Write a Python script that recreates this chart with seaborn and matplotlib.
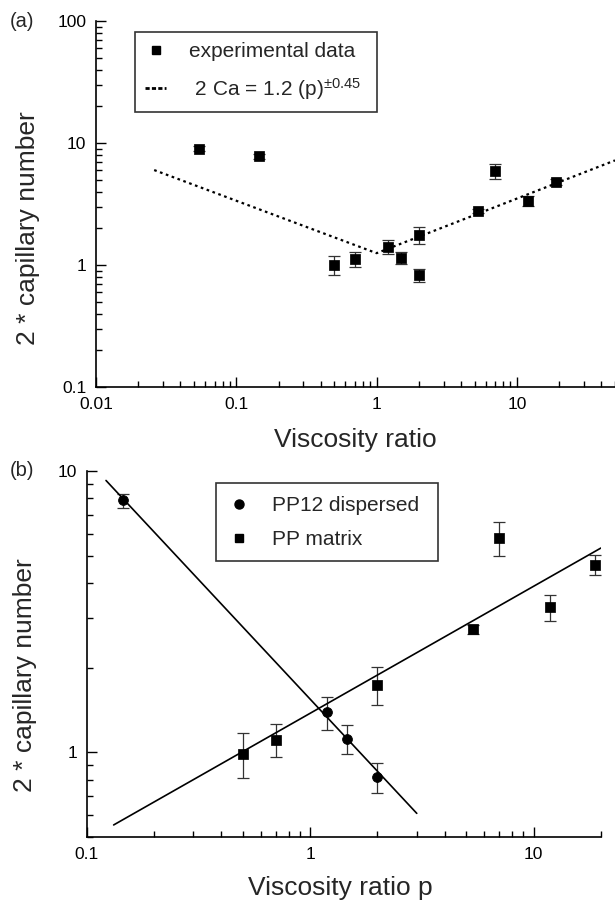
import matplotlib
matplotlib.use("Agg")
import matplotlib.pyplot as plt
import seaborn as sns
from matplotlib.lines import Line2D
from matplotlib.ticker import FixedLocator, LogLocator, NullFormatter

# --- data ---
# (a) all experiments
p_all = [0.054, 0.145, 0.50, 0.70, 1.2, 1.5, 2.0, 2.0, 5.3, 7.0, 12.0, 19.0]
ca_all = [9.0, 7.8, 1.0, 1.12, 1.41, 1.14, 1.77, 0.83, 2.78, 5.9, 3.35, 4.8]
err_all = [0.45, 0.4, 0.18, 0.15, 0.19, 0.13, 0.27, 0.1, 0.1, 0.8, 0.33, 0.3]
fit_p = [0.026, 1.0, 50.0]
fit_ca = [6.0, 1.25, 7.2]

# (b) split by series
disp_p = [0.146, 1.19, 1.46, 2.0]
disp_ca = [7.87, 1.39, 1.12, 0.815]
disp_err = [0.45, 0.19, 0.13, 0.1]
matrix_p = [0.5, 0.7, 2.0, 5.37, 7.0, 11.8, 18.75]
matrix_ca = [0.99, 1.11, 1.74, 2.74, 5.78, 3.28, 4.65]
matrix_err = [0.18, 0.15, 0.27, 0.1, 0.8, 0.35, 0.37]
disp_fit_p = [0.122, 3.0]
disp_fit_ca = [9.27, 0.607]
matrix_fit_p = [0.132, 20.0]
matrix_fit_ca = [0.552, 5.33]

sns.set_style("ticks")
plt.rcParams["font.family"] = ["Liberation Sans", "DejaVu Sans"]
plt.rcParams["mathtext.default"] = "regular"

fig = plt.figure(figsize=(6.15, 9.01), dpi=100)
ax1 = fig.add_axes([0.156, 0.5705, 0.844, 0.4062])
ax2 = fig.add_axes([0.141, 0.071, 0.836, 0.406])


def errbars(ax, x, y, e):
    _, caps, _ = ax.errorbar(x, y, yerr=e, fmt="none", ecolor="0.2",
                             elinewidth=0.9, capsize=4.3, capthick=0.9, zorder=2)
    for c in caps:
        c.set_color("0.55")


def style_axis(ax, xticks, xlabels, yticks, ylabels):
    ax.set_xscale("log")
    ax.set_yscale("log")
    sns.despine(ax=ax)
    for s in ["left", "bottom"]:
        ax.spines[s].set_linewidth(1.2)
        ax.spines[s].set_color("black")
    ax.xaxis.set_major_locator(FixedLocator(xticks))
    ax.set_xticklabels(xlabels)
    ax.yaxis.set_major_locator(FixedLocator(yticks))
    ax.set_yticklabels(ylabels)
    ax.xaxis.set_minor_locator(LogLocator(base=10, subs=range(2, 10), numticks=20))
    ax.yaxis.set_minor_locator(LogLocator(base=10, subs=range(2, 10), numticks=20))
    ax.xaxis.set_minor_formatter(NullFormatter())
    ax.yaxis.set_minor_formatter(NullFormatter())
    ax.tick_params(which="both", direction="in", top=False, right=False,
                   labelsize=12.5, colors="black", width=1)
    ax.tick_params(which="major", length=7)
    ax.tick_params(which="minor", length=4)
    ax.tick_params(axis="y", pad=7)
    ax.tick_params(axis="x", pad=7)


# --- panel (a) ---
errbars(ax1, p_all, ca_all, err_all)
sns.scatterplot(x=p_all, y=ca_all, marker="s", color="black", s=42,
                edgecolor="black", ax=ax1, zorder=3)
sns.lineplot(x=fit_p, y=fit_ca, color="black", linestyle=(0, (1.2, 1.6)),
             linewidth=1.6, estimator=None, sort=False, ax=ax1)
style_axis(ax1, [0.01, 0.1, 1, 10], ["0.01", "0.1", "1", "10"],
           [0.1, 1, 10, 100], ["0.1", "1", "10", "100"])
ax1.set_xlim(0.01, 50)
ax1.set_ylim(0.1, 100)
ax1.set_xlabel("Viscosity ratio", fontsize=19)
ax1.set_ylabel("2 * capillary number", fontsize=19)
ax1.xaxis.set_label_coords(0.499, -0.113)
ax1.yaxis.set_label_coords(-0.108, 0.434)

h1 = [Line2D([], [], marker="s", color="black", linestyle="none", markersize=6),
      Line2D([], [], color="black", linestyle=(0, (1.5, 0.8)), linewidth=2)]
leg1 = ax1.legend(h1, ["experimental data  ", r" 2 Ca = 1.2 (p)$^{\pm0.45}$ "],
                  loc="upper left", bbox_to_anchor=(0.075, 0.97), fontsize=15,
                  frameon=True, fancybox=False, handlelength=1.0,
                  handletextpad=1.1, labelspacing=0.7, borderpad=0.5,
                  borderaxespad=0)
leg1.get_frame().set_edgecolor("black")
leg1.get_frame().set_linewidth(1.2)

# --- panel (b) ---
errbars(ax2, disp_p, disp_ca, disp_err)
errbars(ax2, matrix_p, matrix_ca, matrix_err)
sns.lineplot(x=disp_fit_p, y=disp_fit_ca, color="black", linewidth=1.2,
             estimator=None, sort=False, ax=ax2)
sns.lineplot(x=matrix_fit_p, y=matrix_fit_ca, color="black", linewidth=1.2,
             estimator=None, sort=False, ax=ax2)
sns.scatterplot(x=disp_p, y=disp_ca, marker="o", color="black", s=50,
                edgecolor="black", ax=ax2, zorder=3)
sns.scatterplot(x=matrix_p, y=matrix_ca, marker="s", color="black", s=42,
                edgecolor="black", ax=ax2, zorder=3)
style_axis(ax2, [0.1, 1, 10], ["0.1", "1", "10"], [1, 10], ["1", "10"])
ax2.set_xlim(0.1, 20)
ax2.set_ylim(0.5, 10)
ax2.set_xlabel("Viscosity ratio p", fontsize=19)
ax2.set_ylabel("2 * capillary number", fontsize=19)
ax2.xaxis.set_label_coords(0.493, -0.107)
ax2.yaxis.set_label_coords(-0.097, 0.443)

h2 = [Line2D([], [], marker="o", color="black", linestyle="none", markersize=6.5),
      Line2D([], [], marker="s", color="black", linestyle="none", markersize=6)]
leg2 = ax2.legend(h2, ["PP12 dispersed ", "PP matrix"], loc="upper left",
                  bbox_to_anchor=(0.2516, 0.967), fontsize=15, frameon=True,
                  fancybox=False, handlelength=1.0, handletextpad=1.1,
                  labelspacing=0.72, borderpad=0.6, borderaxespad=0)
leg2.get_frame().set_edgecolor("black")
leg2.get_frame().set_linewidth(1.2)

fig.text(0.036, 0.976, "(a)", fontsize=14.5, ha="center", va="center")
fig.text(0.036, 0.478, "(b)", fontsize=14.5, ha="center", va="center")

fig.savefig("out.png", dpi=100)
